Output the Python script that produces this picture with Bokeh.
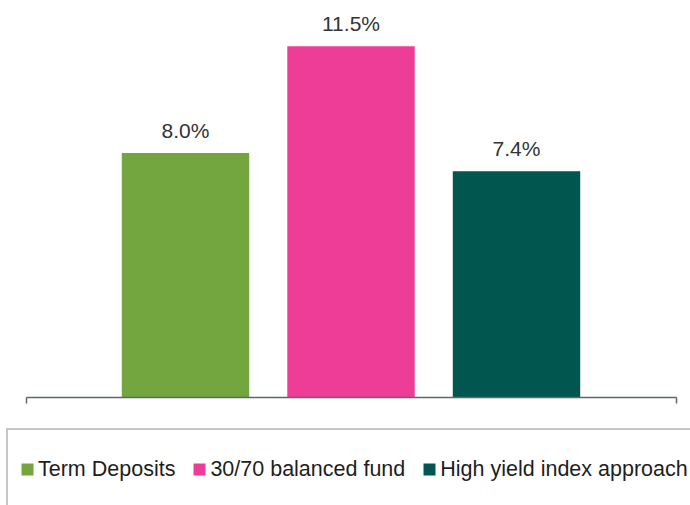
from bokeh.plotting import figure
from bokeh.models import (ColumnDataSource, Range1d, LinearAxis,
                          FixedTicker, Legend, LegendItem, LabelSet)
from bokeh.core.properties import value
from bokeh.embed import file_html
from bokeh.resources import INLINE

# ---- data ----
categories = ["Term Deposits", "30/70 balanced fund", "High yield index approach"]
values = [8.0, 11.5, 7.4]
labels = [f"{v:.1f}%" for v in values]
colors = ["#74A640", "#EE3D96", "#01564F"]

FONT = "Liberation Sans"
W, H = 690, 505

pos = list(range(len(categories)))          # category slots 0, 1, 2
src = ColumnDataSource(dict(x=pos, cat=categories, val=values, lab=labels, col=colors))

# layout: one category slot = 165.5 px, first slot centre 185 px from the left
SLOT = 165.5
x0 = -185 / SLOT
x1 = x0 + W / SLOT
PX_PER_UNIT = 30.5
BASE = 396.5
y1 = BASE / PX_PER_UNIT
y0 = -(H - BASE) / PX_PER_UNIT

p = figure(width=W, height=H,
           x_range=Range1d(x0, x1),
           y_range=Range1d(y0, y1),
           output_backend="svg", toolbar_location=None,
           x_axis_location=None, y_axis_location=None,
           min_border=0)
p.outline_line_color = None
p.background_fill_color = "white"
p.border_fill_color = "white"
p.grid.visible = False

bars = p.vbar(x="x", top="val", width=0.77, bottom=0, source=src,
              fill_color="col", line_color=None)

# hidden markers that only supply the square legend swatches
swatch = p.scatter(x="x", y="val", size=0, marker="square", source=src,
                   fill_color="col", line_color="col", line_width=4,
                   line_join="miter")
swatch.visible = False

# baseline axis with end ticks
a0 = x0 + 25.5 / SLOT
a1 = x0 + 676 / SLOT
ax = LinearAxis(fixed_location=0,
                bounds=(a0, a1), ticker=FixedTicker(ticks=[a0, a1]),
                major_tick_in=0, major_tick_out=6, minor_tick_in=0, minor_tick_out=0,
                axis_line_color="#5d686e", axis_line_width=1.5,
                major_tick_line_color="#5d686e", major_tick_line_width=1.5,
                major_label_text_color=None, major_label_text_font_size="1px")
p.add_layout(ax, "below")

p.add_layout(LabelSet(x="x", y="val", text="lab", source=src,
                      y_offset=15, text_align="center", text_baseline="alphabetic",
                      text_font=value(FONT), text_font_size="21px", text_color="#333333"))

legend = Legend(items=[LegendItem(label=c, renderers=[swatch], index=i)
                       for i, c in enumerate(categories)],
                orientation="horizontal", location=(6, -5),
                padding=9, spacing=14, margin=0,
                glyph_width=20, glyph_height=60, label_height=60,
                label_standoff=1,
                label_text_font=FONT, label_text_font_size="21.5px",
                label_text_color="#1e1e1e",
                border_line_color="#8a8f92", border_line_width=2,
                background_fill_alpha=0)
p.add_layout(legend)

open("out.html", "w").write(file_html(p, INLINE))
